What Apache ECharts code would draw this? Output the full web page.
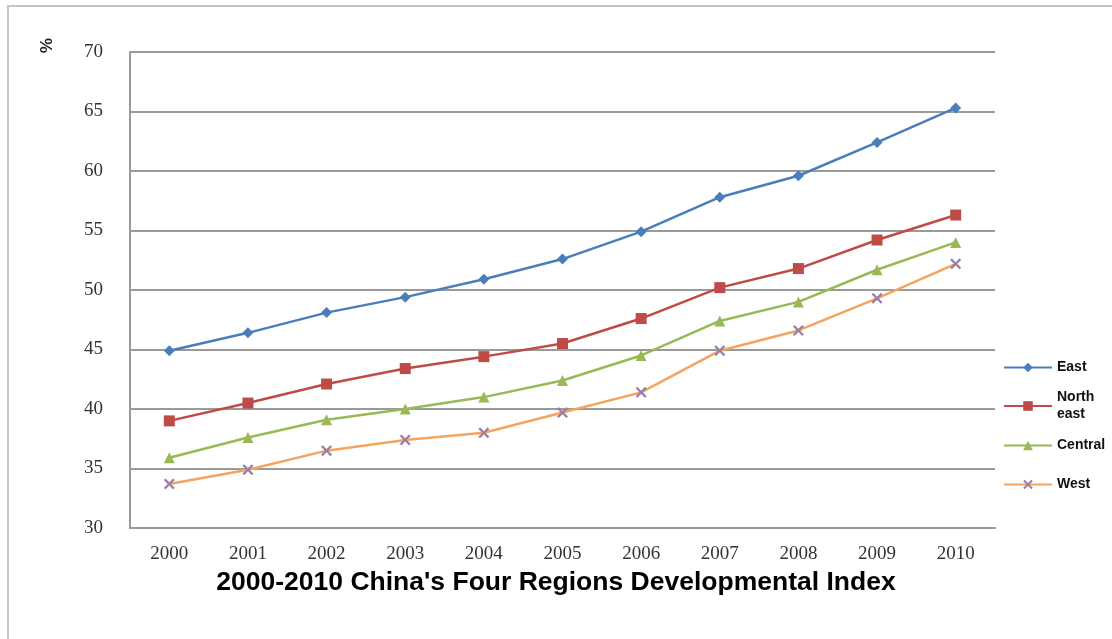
<!DOCTYPE html>
<html><head><meta charset="utf-8">
<script src="https://cdn.jsdelivr.net/npm/echarts@6/dist/echarts.min.js"></script>
<style>html,body{margin:0;padding:0;background:#fff}#c{width:1112px;height:639px}</style>
</head><body><div id="c"></div>
<script>
const years = ['2000','2001','2002','2003','2004','2005','2006','2007','2008','2009','2010'];
const east      = [44.9, 46.4, 48.1, 49.4, 50.9, 52.6, 54.9, 57.8, 59.6, 62.4, 65.3];
const northeast = [39.0, 40.5, 42.1, 43.4, 44.4, 45.5, 47.6, 50.2, 51.8, 54.2, 56.3];
const central   = [35.9, 37.6, 39.1, 40.0, 41.0, 42.4, 44.5, 47.4, 49.0, 51.7, 54.0];
const west      = [33.7, 34.9, 36.5, 37.4, 38.0, 39.7, 41.4, 44.9, 46.6, 49.3, 52.2];
const names = ['East', 'North\neast', 'Central', 'West'];
const titleText = "2000-2010 China's Four Regions Developmental Index";

const xSym = 'path://M0,1.5L1.5,0L5,3.5L8.5,0L10,1.5L6.5,5L10,8.5L8.5,10L5,6.5L1.5,10L0,8.5L3.5,5Z';

function mk(name, data, color, symbol, size, mcolor) {
  return {
    name: name, type: 'line', data: data, symbol: symbol, symbolSize: size,
    lineStyle: {color: color, width: 2.5},
    itemStyle: {color: mcolor || color},
    emphasis: {disabled: true}
  };
}
const legendTops = [354, 384, 432, 471];
function lg(i) {
  return {
    orient: 'vertical', left: 998, top: legendTops[i],
    itemWidth: 48, itemHeight: 12, itemGap: 0,
    textStyle: {fontFamily: 'Liberation Sans', fontWeight: 'bold', fontSize: 14, color: '#111', lineHeight: 17},
    data: [names[i]]
  };
}

const chart = echarts.init(document.getElementById('c'));
chart.setOption({
  animation: false,
  backgroundColor: '#fff',
  grid: {left: 130, right: 117, top: 52, bottom: 111},
  xAxis: {
    type: 'category', data: years, boundaryGap: true,
    axisLine: {lineStyle: {color: '#999', width: 2}},
    axisTick: {show: false},
    axisLabel: {color: '#333', fontFamily: 'Liberation Serif', fontSize: 19, margin: 17}
  },
  yAxis: {
    type: 'value', min: 30, max: 70, interval: 5,
    axisLine: {show: true, lineStyle: {color: '#999', width: 2}},
    axisTick: {show: false},
    splitLine: {lineStyle: {color: '#9a9a9a', width: 2}},
    axisLabel: {color: '#333', fontFamily: 'Liberation Serif', fontSize: 19, margin: 27}
  },
  legend: [lg(0), lg(1), lg(2), lg(3)],
  graphic: [
    {type: 'rect', shape: {x: 8, y: 6, width: 1110, height: 640}, style: {fill: 'none', stroke: '#c4c4c4', lineWidth: 2}, silent: true},
    {type: 'text', left: 36, top: 38, rotation: -Math.PI/2, style: {text: '%', font: 'bold 17px Liberation Sans', fill: '#222'}, originX: 0, originY: 0},
    {type: 'text', left: 'center', top: 569, style: {text: titleText, font: 'bold 26.5px "Liberation Sans Narrow", "Liberation Sans"', fill: '#000'}}
  ],
  series: [
    mk(names[0], east, '#4a7ebb', 'diamond', 11),
    mk(names[1], northeast, '#be4b48', 'rect', 11),
    mk(names[2], central, '#98b954', 'triangle', 11),
    mk(names[3], west, '#f4a460', xSym, 11, '#9a7fa8')
  ]
});
</script></body></html>
